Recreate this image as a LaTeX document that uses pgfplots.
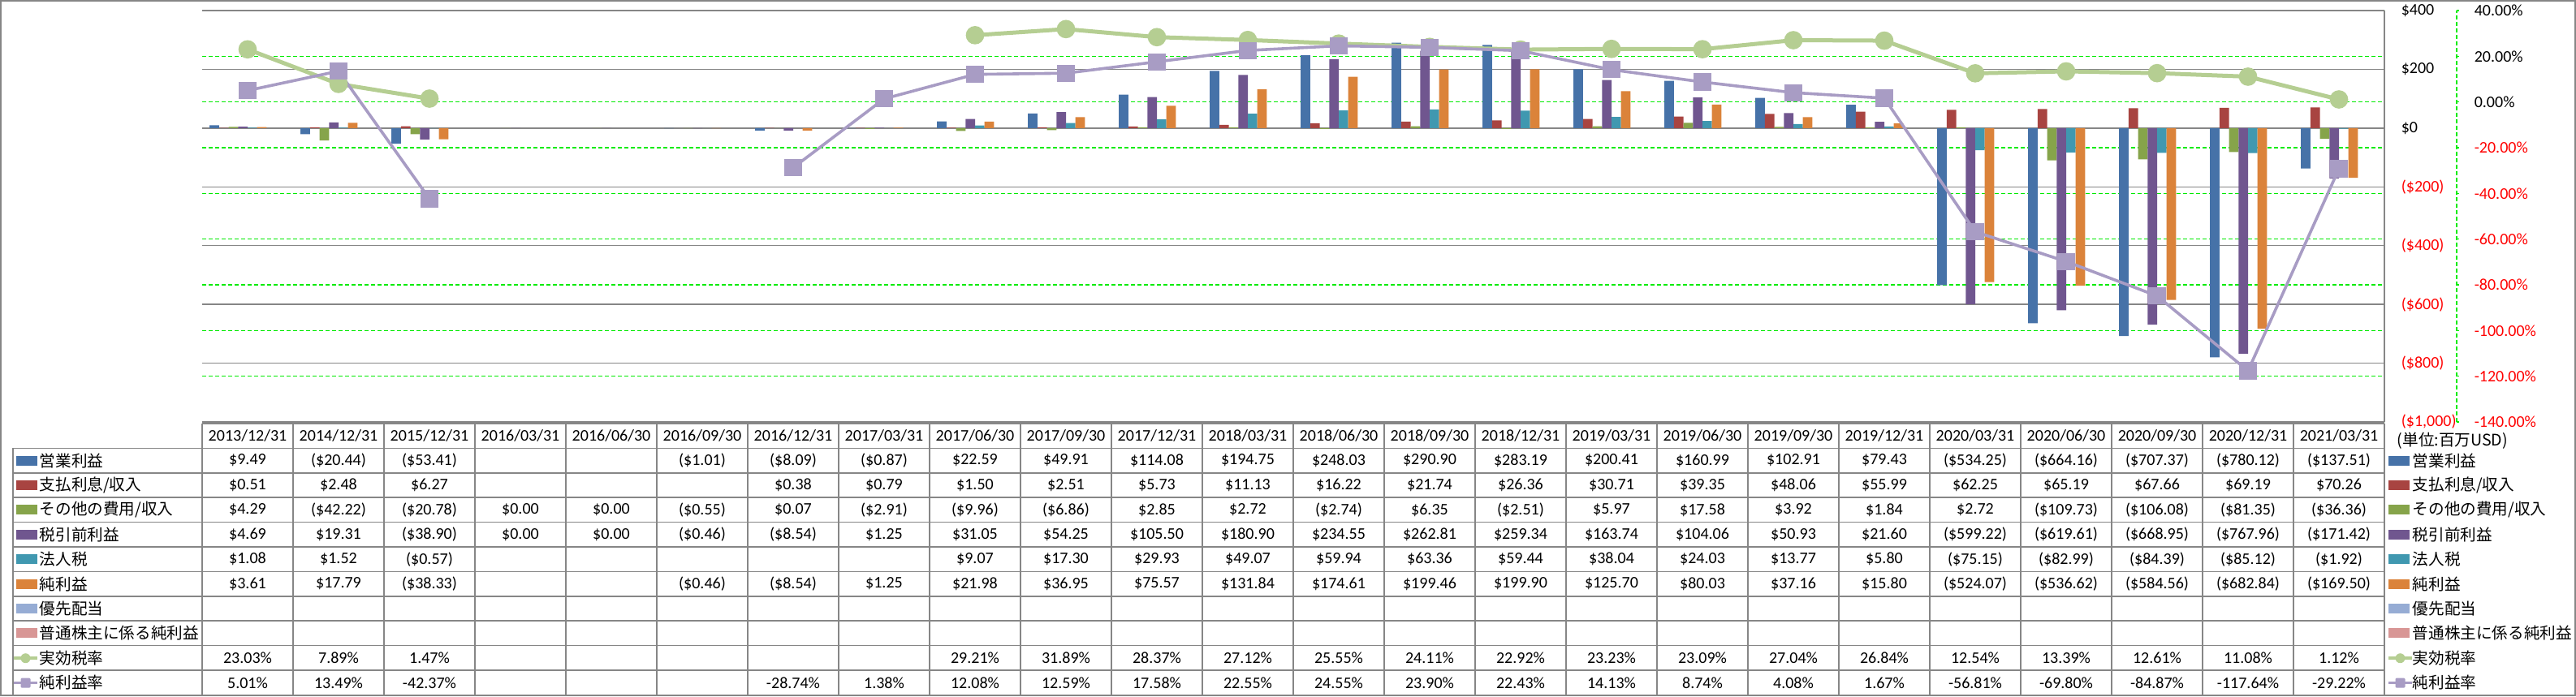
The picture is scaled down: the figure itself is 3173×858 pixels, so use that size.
\documentclass[border=0pt]{standalone}
\usepackage{pgfplots}
\pgfplotsset{compat=1.18}
\usepackage{fontspec}
\setmainfont{Carlito}
\newfontfamily\jpfont{Noto Sans CJK JP}
\newcommand\J{\jpfont\fontsize{4.9}{6}\selectfont}
\definecolor{cA}{RGB}{70,114,168}
\definecolor{cB}{RGB}{168,68,65}
\definecolor{cC}{RGB}{134,164,74}
\definecolor{cD}{RGB}{112,86,143}
\definecolor{cE}{RGB}{64,152,176}
\definecolor{cF}{RGB}{219,131,58}
\definecolor{cG}{RGB}{150,172,212}
\definecolor{cH}{RGB}{216,150,149}
\definecolor{lnG}{RGB}{181,206,146}
\definecolor{lnP}{RGB}{168,156,196}
\definecolor{gridgray}{RGB}{134,134,134}
\definecolor{gridgreen}{RGB}{0,235,0}
\newcommand\tabrow[2]{\foreach \v [count=\i from 0] in {#2} {\node at ({305+112*\i},#1) {\v};}}
\begin{document}
\begin{tikzpicture}[font=\fontsize{5}{6}\selectfont]
% ---------- secondary grid + axis (percent) ----------
\begin{axis}[
  at={(62.25pt,-130pt)}, anchor=south west,
  scale only axis, width=672pt, height=126.75pt,
  xmin=-0.5, xmax=23.5, ymin=-140, ymax=40,
  hide x axis, axis y line*=right,
  ytick={-140,-120,-100,-80,-60,-40,-20,0,20,40},
  yticklabels={{\textcolor{red}{-140.00\%}},{\textcolor{red}{-120.00\%}},{\textcolor{red}{-100.00\%}},{\textcolor{red}{-80.00\%}},{\textcolor{red}{-60.00\%}},{\textcolor{red}{-40.00\%}},{\textcolor{red}{-20.00\%}},{0.00\%},{20.00\%},{40.00\%}},
  ymajorgrids,
  grid style={draw=gridgreen, line width=0.35pt, dash pattern=on 1.2pt off 0.8pt},
  y axis line style={draw=gridgreen, line width=0.35pt, dash pattern=on 1.2pt off 0.8pt, xshift=22.25pt, -},
  ytick style={draw=gridgreen, line width=0.35pt, xshift=22.25pt},
  tick align=outside, major tick length=0.75pt,
  yticklabel style={anchor=west, inner sep=0pt, xshift=26.75pt, font=\fontsize{5}{6}\selectfont},
]
\addplot[draw=none] coordinates {(0,0)};
\end{axis}
% ---------- primary axis with bars ----------
\begin{axis}[
  at={(62.25pt,-130pt)}, anchor=south west,
  scale only axis, width=672pt, height=126.75pt,
  xmin=-0.5, xmax=23.5, ymin=-1000, ymax=400,
  hide x axis, axis y line*=right,
  ytick={-1000,-800,-600,-400,-200,0,200,400},
  yticklabels={{\textcolor{red}{(\$1,000)}},{\textcolor{red}{(\$800)}},{\textcolor{red}{(\$600)}},{\textcolor{red}{(\$400)}},{\textcolor{red}{(\$200)}},{\$0},{\$200},{\$400}},
  ymajorgrids,
  grid style={draw=gridgray, line width=0.35pt},
  y axis line style={draw=gridgray, line width=0.35pt, -},
  major tick length=0pt,
  yticklabel style={anchor=west, inner sep=0pt, xshift=5pt, font=\fontsize{5}{6}\selectfont},
  ybar, bar width=0.1045,
  every axis plot/.append style={draw=none},
]
\addplot[fill=cA, bar shift=-0.3657] coordinates {(0,9.49)(1,-20.44)(2,-53.41)(5,-1.01)(6,-8.09)(7,-0.87)(8,22.59)(9,49.91)(10,114.08)(11,194.75)(12,248.03)(13,290.90)(14,283.19)(15,200.41)(16,160.99)(17,102.91)(18,79.43)(19,-534.25)(20,-664.16)(21,-707.37)(22,-780.12)(23,-137.51)};
\addplot[fill=cB, bar shift=-0.2612] coordinates {(0,0.51)(1,2.48)(2,6.27)(6,0.38)(7,0.79)(8,1.50)(9,2.51)(10,5.73)(11,11.13)(12,16.22)(13,21.74)(14,26.36)(15,30.71)(16,39.35)(17,48.06)(18,55.99)(19,62.25)(20,65.19)(21,67.66)(22,69.19)(23,70.26)};
\addplot[fill=cC, bar shift=-0.1567] coordinates {(0,4.29)(1,-42.22)(2,-20.78)(3,0)(4,0)(5,-0.55)(6,0.07)(7,-2.91)(8,-9.96)(9,-6.86)(10,2.85)(11,2.72)(12,-2.74)(13,6.35)(14,-2.51)(15,5.97)(16,17.58)(17,3.92)(18,1.84)(19,2.72)(20,-109.73)(21,-106.08)(22,-81.35)(23,-36.36)};
\addplot[fill=cD, bar shift=-0.0522] coordinates {(0,4.69)(1,19.31)(2,-38.90)(3,0)(4,0)(5,-0.46)(6,-8.54)(7,1.25)(8,31.05)(9,54.25)(10,105.50)(11,180.90)(12,234.55)(13,262.81)(14,259.34)(15,163.74)(16,104.06)(17,50.93)(18,21.60)(19,-599.22)(20,-619.61)(21,-668.95)(22,-767.96)(23,-171.42)};
\addplot[fill=cE, bar shift=0.0522] coordinates {(0,1.08)(1,1.52)(2,-0.57)(8,9.07)(9,17.30)(10,29.93)(11,49.07)(12,59.94)(13,63.36)(14,59.44)(15,38.04)(16,24.03)(17,13.77)(18,5.80)(19,-75.15)(20,-82.99)(21,-84.39)(22,-85.12)(23,-1.92)};
\addplot[fill=cF, bar shift=0.1567] coordinates {(0,3.61)(1,17.79)(2,-38.33)(5,-0.46)(6,-8.54)(7,1.25)(8,21.98)(9,36.95)(10,75.57)(11,131.84)(12,174.61)(13,199.46)(14,199.90)(15,125.70)(16,80.03)(17,37.16)(18,15.80)(19,-524.07)(20,-536.62)(21,-584.56)(22,-682.84)(23,-169.50)};
\end{axis}
% ---------- lines (percent) ----------
\begin{axis}[
  at={(62.25pt,-130pt)}, anchor=south west,
  scale only axis, width=672pt, height=126.75pt,
  xmin=-0.5, xmax=23.5, ymin=-140, ymax=40,
  hide axis, unbounded coords=jump, clip=false,
]
\addplot[lnG, line width=1.25pt, mark=*, mark size=2.2pt, mark options={fill=lnG, draw=none}] coordinates {(0,23.03)(1,7.89)(2,1.47)(3,nan)(4,nan)(5,nan)(6,nan)(7,nan)(8,29.21)(9,31.89)(10,28.37)(11,27.12)(12,25.55)(13,24.11)(14,22.92)(15,23.23)(16,23.09)(17,27.04)(18,26.84)(19,12.54)(20,13.39)(21,12.61)(22,11.08)(23,1.12)};
\addplot[lnP, line width=0.9pt, mark=square*, mark size=2.2pt, mark options={fill=lnP, draw=none, rounded corners=0.4pt}] coordinates {(0,5.01)(1,13.49)(2,-42.37)(3,nan)(4,nan)(5,nan)(6,-28.74)(7,1.38)(8,12.08)(9,12.59)(10,17.58)(11,22.55)(12,24.55)(13,23.90)(14,22.43)(15,14.13)(16,8.74)(17,4.08)(18,1.67)(19,-56.81)(20,-69.80)(21,-84.87)(22,-117.64)(23,-29.22)};
\end{axis}
% ---------- data table ----------
\begin{scope}[x=0.25pt,y=-0.25pt]
\draw[gridgray, line width=0.375pt] (249,522) -- (2937,522);
\foreach \k in {0,...,10} {\draw[gridgray, line width=0.375pt] (16,{552.4+30.4*\k}) -- (2937,{552.4+30.4*\k});}
\foreach \k in {0,...,24} {\draw[gridgray, line width=0.375pt] ({249+112*\k},522) -- ({249+112*\k},856);}
\draw[gridgray, line width=0.375pt] (16,552.4) -- (16,856);
\tabrow{537}{2013/12/31,2014/12/31,2015/12/31,2016/03/31,2016/06/30,2016/09/30,2016/12/31,2017/03/31,2017/06/30,2017/09/30,2017/12/31,2018/03/31,2018/06/30,2018/09/30,2018/12/31,2019/03/31,2019/06/30,2019/09/30,2019/12/31,2020/03/31,2020/06/30,2020/09/30,2020/12/31,2021/03/31}
\tabrow{567.6}{{\$9.49},{(\$20.44)},{(\$53.41)},{},{},{(\$1.01)},{(\$8.09)},{(\$0.87)},{\$22.59},{\$49.91},{\$114.08},{\$194.75},{\$248.03},{\$290.90},{\$283.19},{\$200.41},{\$160.99},{\$102.91},{\$79.43},{(\$534.25)},{(\$664.16)},{(\$707.37)},{(\$780.12)},{(\$137.51)}}
\tabrow{598}{{\$0.51},{\$2.48},{\$6.27},{},{},{},{\$0.38},{\$0.79},{\$1.50},{\$2.51},{\$5.73},{\$11.13},{\$16.22},{\$21.74},{\$26.36},{\$30.71},{\$39.35},{\$48.06},{\$55.99},{\$62.25},{\$65.19},{\$67.66},{\$69.19},{\$70.26}}
\tabrow{628.4}{{\$4.29},{(\$42.22)},{(\$20.78)},{\$0.00},{\$0.00},{(\$0.55)},{\$0.07},{(\$2.91)},{(\$9.96)},{(\$6.86)},{\$2.85},{\$2.72},{(\$2.74)},{\$6.35},{(\$2.51)},{\$5.97},{\$17.58},{\$3.92},{\$1.84},{\$2.72},{(\$109.73)},{(\$106.08)},{(\$81.35)},{(\$36.36)}}
\tabrow{658.8}{{\$4.69},{\$19.31},{(\$38.90)},{\$0.00},{\$0.00},{(\$0.46)},{(\$8.54)},{\$1.25},{\$31.05},{\$54.25},{\$105.50},{\$180.90},{\$234.55},{\$262.81},{\$259.34},{\$163.74},{\$104.06},{\$50.93},{\$21.60},{(\$599.22)},{(\$619.61)},{(\$668.95)},{(\$767.96)},{(\$171.42)}}
\tabrow{689.2}{{\$1.08},{\$1.52},{(\$0.57)},{},{},{},{},{},{\$9.07},{\$17.30},{\$29.93},{\$49.07},{\$59.94},{\$63.36},{\$59.44},{\$38.04},{\$24.03},{\$13.77},{\$5.80},{(\$75.15)},{(\$82.99)},{(\$84.39)},{(\$85.12)},{(\$1.92)}}
\tabrow{719.6}{{\$3.61},{\$17.79},{(\$38.33)},{},{},{(\$0.46)},{(\$8.54)},{\$1.25},{\$21.98},{\$36.95},{\$75.57},{\$131.84},{\$174.61},{\$199.46},{\$199.90},{\$125.70},{\$80.03},{\$37.16},{\$15.80},{(\$524.07)},{(\$536.62)},{(\$584.56)},{(\$682.84)},{(\$169.50)}}
\tabrow{811.2}{{23.03\%},{7.89\%},{1.47\%},{},{},{},{},{},{29.21\%},{31.89\%},{28.37\%},{27.12\%},{25.55\%},{24.11\%},{22.92\%},{23.23\%},{23.09\%},{27.04\%},{26.84\%},{12.54\%},{13.39\%},{12.61\%},{11.08\%},{1.12\%}}
\tabrow{841.6}{{5.01\%},{13.49\%},{-42.37\%},{},{},{},{-28.74\%},{1.38\%},{12.08\%},{12.59\%},{17.58\%},{22.55\%},{24.55\%},{23.90\%},{22.43\%},{14.13\%},{8.74\%},{4.08\%},{1.67\%},{-56.81\%},{-69.80\%},{-84.87\%},{-117.64\%},{-29.22\%}}
% legend keys (table left and right legend)
\foreach \c/\t [count=\r from 0] in {cA/営業利益,cB/支払利息/収入,cC/その他の費用/収入,cD/税引前利益,cE/法人税,cF/純利益,cG/優先配当,cH/普通株主に係る純利益} {
  \pgfmathsetmacro\yc{567.6+30.4*\r}
  \fill[\c] (20,\yc-6) rectangle (46,\yc+6);
  \fill[\c] (2942,\yc-6) rectangle (2968,\yc+6);
}
\foreach \t [count=\r from 0] in {営業利益,支払利息/収入,その他の費用/収入,税引前利益,法人税,純利益,優先配当,普通株主に係る純利益,実効税率,純利益率} {
  \pgfmathsetmacro\yc{567.6+30.4*\r}
  \node[anchor=west, inner sep=0pt] at (48,\yc) {\J\t};
  \node[anchor=west, inner sep=0pt] at (2971,\yc) {\J\t};
}
\foreach \xx in {17,2942} {
  \draw[lnG, line width=1pt] (\xx,811.2) -- (\xx+29,811.2);
  \fill[lnG] (\xx+14.5,811.2) circle (6);
  \draw[lnP, line width=0.8pt] (\xx,841.6) -- (\xx+29,841.6);
  \fill[lnP, rounded corners=0.3pt] (\xx+8.5,835.6) rectangle (\xx+20.5,847.6);
}
\node[anchor=west, inner sep=0pt] at (2952,543) {\J (単位:百万USD)};
\draw[gridgray, line width=0.375pt] (1,1) rectangle (3172,857);
\pgfresetboundingbox
\path (0,0) rectangle (3173,858);
\end{scope}
\end{tikzpicture}
\end{document}
